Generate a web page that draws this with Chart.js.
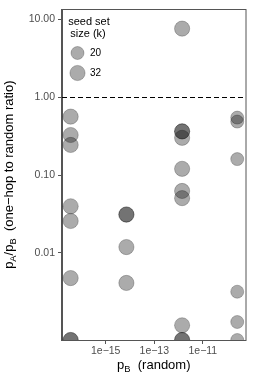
<!DOCTYPE html>
<html>
<head>
<meta charset="utf-8">
<script src="https://cdn.jsdelivr.net/npm/chart.js@4.4.1/dist/chart.umd.min.js"></script>
<style>
html, body { margin: 0; padding: 0; background: #fff; }
#wrap { width: 254px; height: 382px; }
</style>
</head>
<body>
<div id="wrap"><canvas id="ratioChart"></canvas></div>
<script>
// p_B (random) for each network, i.e. the x position of each column
var pB = [3.6e-17, 7.1e-15, 1.4e-12, 2.6e-10];

// one-hop to random ratio, one list per network, split by seed set size
// a 0 means the ratio was zero, it sits on the bottom edge of the panel
var ratioK20 = [
    [],
    [],
    [],
    [0.545, 0.485, 0.160, 0.00318, 0.0013, 0]
];
var ratioK32 = [
    [0.561, 0.326, 0.243, 0.0397, 0.0257, 0.00476, 0, 0],
    [0.0311, 0.0311, 0.0119, 0.00412],
    [7.55, 0.363, 0.363, 0.300, 0.120, 0.0624, 0.0505, 0.00118, 0, 0],
    []
];

var xTicks = [1e-15, 1e-13, 1e-11];
var xTickLabels = ['1e\u221215', '1e\u221213', '1e\u221211'];
var yTicks = [0.01, 0.1, 1, 10];
var yTickLabels = ['0.01', '0.10', '1.00', '10.00'];
var seedSizes = [20, 32];

var X_MIN = Math.pow(10, -16.8), X_MAX = Math.pow(10, -9.24);
var Y_MIN = Math.pow(10, -3.117), Y_MAX = Math.pow(10, 1.126);

var radiusFor = { 20: 6.5, 32: 7.6 };
var fill = 'rgba(0,0,0,0.33)';
var edge = 'rgba(0,0,0,0.3)';
var family = '"Liberation Sans", Arial, sans-serif';

function toPoints(cols) {
    var pts = [];
    cols.forEach(function (vals, i) {
        vals.forEach(function (v) {
            pts.push({ x: pB[i], y: v === 0 ? Y_MIN : v });
        });
    });
    return pts;
}

// draw text with subscripts, parts = [[text, isSub], ...]
function richText(ctx, parts, x, y, size) {
    var w = 0;
    parts.forEach(function (p) {
        ctx.font = (p[1] ? size * 0.72 : size) + 'px ' + family;
        w += ctx.measureText(p[0]).width;
    });
    var cx = x - w / 2;
    parts.forEach(function (p) {
        ctx.font = (p[1] ? size * 0.72 : size) + 'px ' + family;
        ctx.fillText(p[0], cx, p[1] ? y + size * 0.22 : y);
        cx += ctx.measureText(p[0]).width;
    });
}

var extras = {
    id: 'extras',
    beforeDatasetsDraw: function (chart) {
        var c = chart.ctx, a = chart.chartArea;
        var y1 = Math.round(chart.scales.y.getPixelForValue(1)) + 0.5;
        c.save();
        c.strokeStyle = '#000';
        c.lineWidth = 1;
        c.setLineDash([5, 3]);
        c.beginPath();
        c.moveTo(a.left, y1);
        c.lineTo(a.right, y1);
        c.stroke();
        c.restore();
    },
    afterDraw: function (chart) {
        var c = chart.ctx, a = chart.chartArea;
        c.save();
        // panel border
        c.strokeStyle = '#555';
        c.lineWidth = 1;
        c.strokeRect(Math.round(a.left) - 0.5, Math.round(a.top) + 0.5,
            Math.round(a.right - a.left) + 0.5, Math.round(a.bottom - a.top));

        // legend
        c.fillStyle = '#000';
        c.textAlign = 'center';
        c.textBaseline = 'middle';
        c.font = '11px ' + family;
        c.fillText('seed set', 89, 22);
        c.fillText('size (k)', 88, 34);
        var ly = [53, 73];
        seedSizes.forEach(function (k, i) {
            c.beginPath();
            c.arc(77.5, ly[i], radiusFor[k], 0, Math.PI * 2);
            c.fillStyle = fill;
            c.fill();
            c.strokeStyle = edge;
            c.lineWidth = 0.8;
            c.stroke();
            c.fillStyle = '#000';
            c.textAlign = 'left';
            c.font = '10px ' + family;
            c.fillText(String(k), 90, ly[i] + 0.5);
        });

        // axis titles
        c.fillStyle = '#000';
        c.textAlign = 'left';
        c.textBaseline = 'alphabetic';
        richText(c, [['p', false], ['B', true], ['  (random)', false]],
            (a.left + a.right) / 2, 369, 13);
        c.translate(13, (a.top + a.bottom) / 2);
        c.rotate(-Math.PI / 2);
        richText(c, [['p', false], ['A', true], ['/p', false], ['B', true],
            ['  (one\u2212hop to random ratio)', false]], 0, 0, 13);
        c.restore();
    }
};

var ctx = document.getElementById('ratioChart').getContext('2d');

var chart = new Chart(ctx, {
    type: 'scatter',
    data: {
        datasets: [{
            label: '20',
            data: toPoints(ratioK20),
            pointRadius: radiusFor[20],
            backgroundColor: fill,
            borderColor: edge,
            borderWidth: 0.8,
            clip: 0
        }, {
            label: '32',
            data: toPoints(ratioK32),
            pointRadius: radiusFor[32],
            backgroundColor: fill,
            borderColor: edge,
            borderWidth: 0.8,
            clip: 0
        }]
    },
    options: {
        responsive: true,
        maintainAspectRatio: false,
        animation: false,
        layout: { padding: { top: 2, right: 7, left: 0, bottom: 0 } },
        plugins: {
            legend: { display: false },
            tooltip: { enabled: false }
        },
        scales: {
            x: {
                type: 'logarithmic',
                min: X_MIN,
                max: X_MAX,
                afterBuildTicks: function (s) {
                    s.ticks = xTicks.map(function (v) { return { value: v }; });
                },
                afterFit: function (s) { s.height = 42; },
                ticks: {
                    autoSkip: false,
                    maxRotation: 0,
                    padding: 1,
                    color: '#4d4d4d',
                    font: { family: family, size: 10.5 },
                    callback: function (v, i) { return xTickLabels[i]; }
                },
                grid: { drawOnChartArea: false, drawTicks: true, tickLength: 4, color: '#555' },
                border: { display: true, color: '#555' }
            },
            y: {
                type: 'logarithmic',
                min: Y_MIN,
                max: Y_MAX,
                afterBuildTicks: function (s) {
                    s.ticks = yTicks.map(function (v) { return { value: v }; });
                },
                afterFit: function (s) { s.width = 62; },
                ticks: {
                    autoSkip: false,
                    padding: 3,
                    color: '#4d4d4d',
                    font: { family: family, size: 10.5 },
                    callback: function (v, i) { return yTickLabels[i]; }
                },
                grid: { drawOnChartArea: false, drawTicks: true, tickLength: 4, color: '#555' },
                border: { display: true, color: '#555' }
            }
        }
    },
    plugins: [extras]
});
</script>
</body>
</html>
